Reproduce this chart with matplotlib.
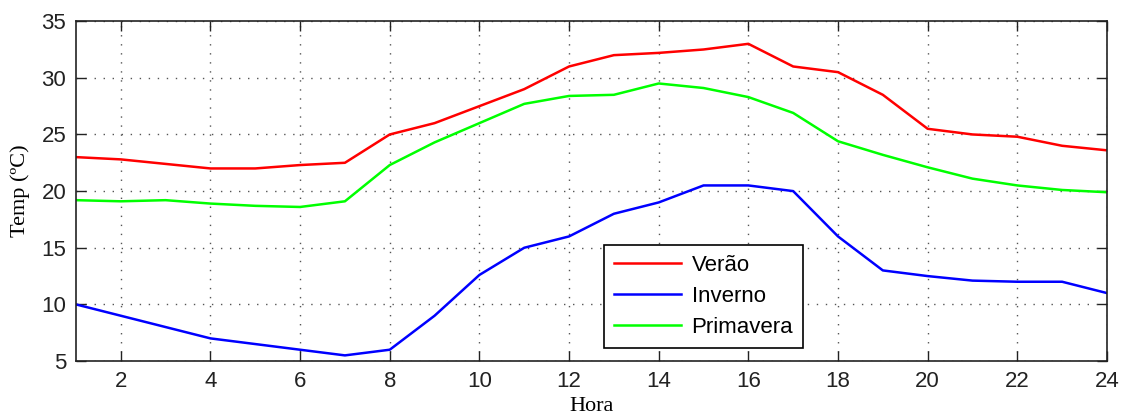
import matplotlib.pyplot as plt

# hourly temperature profiles by season
horas = list(range(1, 25))
verao = [23, 22.8, 22.4, 22, 22, 22.3, 22.5, 25, 26, 27.5, 29, 31,
         32, 32.2, 32.5, 33, 31, 30.5, 28.5, 25.5, 25, 24.8, 24, 23.6]
inverno = [10, 9, 8, 7, 6.5, 6, 5.5, 6, 9, 12.6, 15, 16,
           18, 19, 20.5, 20.5, 20, 16, 13, 12.5, 12.1, 12, 12, 11]
primavera = [19.2, 19.1, 19.2, 18.9, 18.7, 18.6, 19.1, 22.3, 24.3, 26, 27.7, 28.4,
             28.5, 29.5, 29.1, 28.3, 26.9, 24.4, 23.2, 22.1, 21.1, 20.5, 20.1, 19.9]
xticks = list(range(2, 25, 2))
yticks = list(range(5, 36, 5))

plt.rcParams['font.family'] = 'Liberation Sans'

fig = plt.figure(figsize=(11.22, 4.15), dpi=100)
ax = fig.add_axes([0.0677, 0.130, 0.9189, 0.819])

ax.plot(horas, verao, color='#ff0000', lw=1.8, label='Verão')
ax.plot(horas, inverno, color='#0000ff', lw=1.8, label='Inverno')
ax.plot(horas, primavera, color='#00ff00', lw=1.8, label='Primavera')

ax.set_xlim(1, 24)
ax.set_ylim(5, 35)
ax.set_xticks(xticks)
ax.set_yticks(yticks)
ax.tick_params(direction='in', top=True, right=True, length=7, width=1,
               labelsize=16, pad=7, colors='#222222')
ax.grid(True, linestyle=(0, (1, 5.5)), color='#555555', linewidth=1)
for s in ax.spines.values():
    s.set_linewidth(1.2)
    s.set_color('#222222')

ax.set_xlabel('Hora', family='Liberation Serif', fontsize=16, labelpad=4)
ax.set_ylabel('Temp (ºC)', family='Liberation Serif', fontsize=16, labelpad=8)

leg = ax.legend(loc='lower left', bbox_to_anchor=(0.512, 0.038), fontsize=16,
                fancybox=False, framealpha=1, edgecolor='black',
                borderaxespad=0, handlelength=3.0, handletextpad=0.5,
                borderpad=0.45, labelspacing=0.45)
leg.get_frame().set_linewidth(1.2)

fig.savefig('out.png', dpi=100)
